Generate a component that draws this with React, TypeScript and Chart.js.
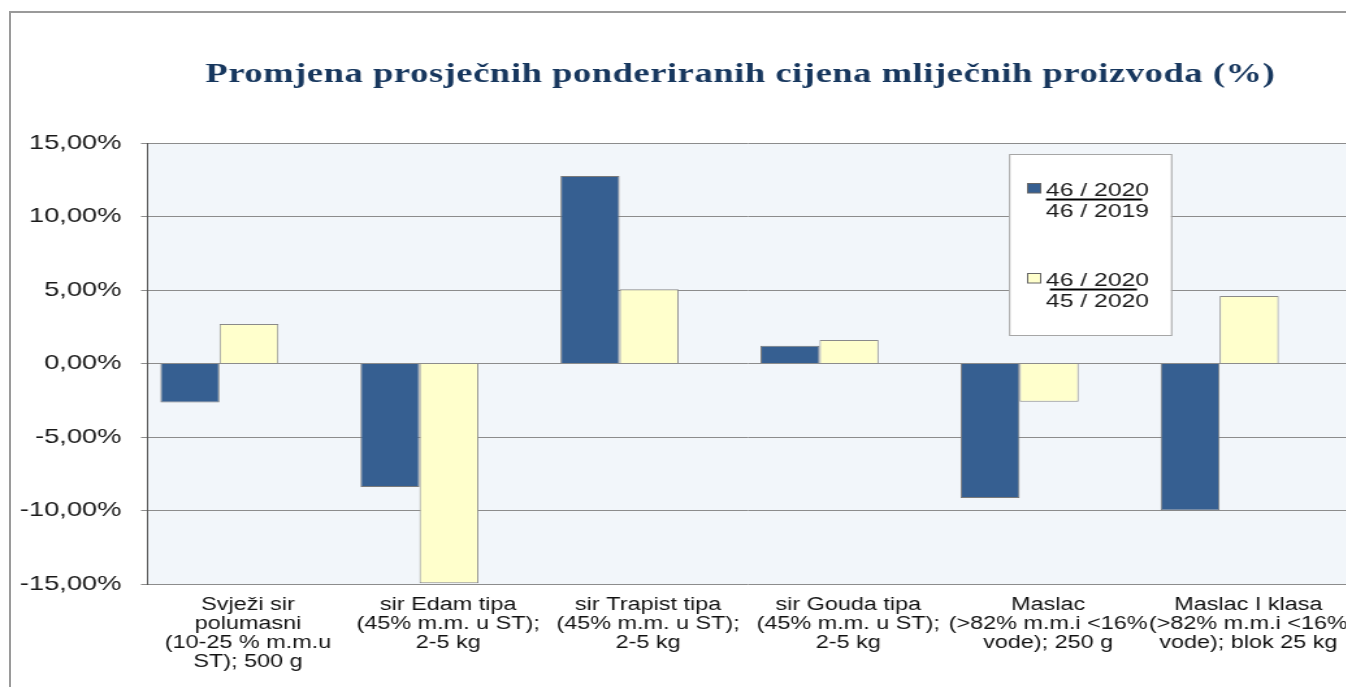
import React, { useEffect, useRef } from "react";
import { Chart, registerables } from "chart.js";

Chart.register(...registerables);

// ---- data ----
const categoryLabels: string[][] = [
  ["Svježi sir", "polumasni", "(10-25 % m.m.u", "ST); 500 g"],
  ["sir Edam tipa", "(45% m.m. u ST);", "2-5 kg"],
  ["sir Trapist tipa", "(45% m.m. u ST);", "2-5 kg"],
  ["sir Gouda tipa", "(45% m.m. u ST);", "2-5 kg"],
  ["Maslac", "(>82% m.m.i <16%", "vode); 250 g"],
  ["Maslac I klasa", "(>82% m.m.i <16%", "vode); blok 25 kg"],
];
const seriesNumerators = ["46 / 2020", "46 / 2020"];
const seriesDenominators = ["46 / 2019", "45 / 2020"];
const yearOnYear = [-2.65, -8.4, 12.75, 1.2, -9.15, -10.0];
const weekOnWeek = [2.68, -14.95, 5.05, 1.6, -2.6, 4.6];
const yTickValues = [-15, -10, -5, 0, 5, 10, 15];
const seriesColors = ["#365F91", "#FFFFCC"];
const titleText = "Promjena prosječnih ponderiranih cijena mliječnih proizvoda (%)";

// ---- layout ----
const SX = 1.3; // horizontal stretch of the whole picture
const CANVAS_W = 1048;
const CANVAS_H = 687;
const PLOT_LEFT = 148 / SX;
const PLOT_TOP = 143;
const FIRST_GROUP_OFFSET = 72 / SX; // first group centre from plot left
const PLOT_RIGHT = 1358 / SX;
const TITLE_CENTER_X = 740 / SX;
const TITLE_WIDTH = 1069 / SX;
const TITLE_BASELINE = 82;

const fmtPct = (v: number) => `${v.toFixed(2).replace(".", ",")}%`;

const plotBackground = {
  id: "plotBackground",
  beforeDraw(chart: any) {
    const { ctx, chartArea } = chart;
    ctx.save();
    ctx.fillStyle = "#F2F6FA";
    ctx.fillRect(chartArea.left, chartArea.top, chartArea.right - chartArea.left, chartArea.bottom - chartArea.top);
    ctx.restore();
  },
};

const chartTitle = {
  id: "chartTitle",
  afterDraw(chart: any) {
    const ctx = chart.ctx;
    ctx.save();
    ctx.font = 'bold 28px "Liberation Serif", "Times New Roman", serif';
    (ctx as any).letterSpacing = "0px";
    const w0 = ctx.measureText(titleText).width;
    const spacing = (TITLE_WIDTH - w0) / (titleText.length - 1);
    (ctx as any).letterSpacing = `${spacing.toFixed(2)}px`;
    ctx.fillStyle = "#17375E";
    ctx.textAlign = "left";
    ctx.textBaseline = "alphabetic";
    ctx.fillText(titleText, TITLE_CENTER_X - TITLE_WIDTH / 2, TITLE_BASELINE);
    (ctx as any).letterSpacing = "0px";
    ctx.restore();
  },
};

const fractionLegend = {
  id: "fractionLegend",
  afterDraw(chart: any) {
    const ctx = chart.ctx;
    ctx.save();
    (ctx as any).letterSpacing = "0px";
    const bx = 1009 / SX;
    const by = 154;
    const bw = 162 / SX;
    const bh = 181;
    ctx.fillStyle = "#ffffff";
    ctx.fillRect(bx, by, bw, bh);
    ctx.strokeStyle = "#a6a6a6";
    ctx.lineWidth = 1;
    ctx.strokeRect(bx + 0.5, by + 0.5, bw, bh);
    chart.data.datasets.forEach((ds: any, i: number) => {
      const top = by + i * 90;
      const sx = 1027 / SX;
      ctx.fillStyle = ds.backgroundColor;
      ctx.fillRect(sx, top + 29, 10.5, 10);
      ctx.strokeStyle = "#666";
      ctx.strokeRect(sx + 0.5, top + 29.5, 10, 9.5);
      const tx = 1046 / SX;
      ctx.fillStyle = "#1a1a1a";
      ctx.font = '19px "Liberation Sans", Arial, sans-serif';
      ctx.textBaseline = "alphabetic";
      ctx.textAlign = "left";
      ctx.fillText(seriesNumerators[i], tx, top + 42);
      ctx.fillText(seriesDenominators[i], tx, top + 63);
      ctx.fillStyle = "#000";
      ctx.fillRect(tx + i * 3, top + 44.5, 74 - i * 7, 2);
    });
    ctx.restore();
  },
};

export default function App() {
  const canvasRef = useRef<HTMLCanvasElement | null>(null);

  useEffect(() => {
    if (!canvasRef.current) return;
    const unit = (PLOT_RIGHT - PLOT_LEFT) / categoryLabels.length;
    const barMin = -FIRST_GROUP_OFFSET / unit;
    const barMax = barMin + categoryLabels.length;
    const chart = new Chart(canvasRef.current, {
      type: "bar",
      data: {
        labels: categoryLabels,
        datasets: [
          {
            label: `${seriesNumerators[0]} : ${seriesDenominators[0]}`,
            data: yearOnYear.map((v, i) => ({ x: i, y: v })),
            backgroundColor: seriesColors[0],
            borderColor: "#7a7a7a",
            borderWidth: 1,
            xAxisID: "xb",
            categoryPercentage: 0.59,
            barPercentage: 1,
          },
          {
            label: `${seriesNumerators[1]} : ${seriesDenominators[1]}`,
            data: weekOnWeek.map((v, i) => ({ x: i, y: v })),
            backgroundColor: seriesColors[1],
            borderColor: "#8a8a8a",
            borderWidth: 1,
            xAxisID: "xb",
            categoryPercentage: 0.59,
            barPercentage: 1,
          },
        ] as any,
      },
      options: {
        animation: false,
        responsive: false,
        maintainAspectRatio: false,
        layout: { padding: { left: 0, right: CANVAS_W - PLOT_RIGHT, top: PLOT_TOP, bottom: 0 } },
        plugins: {
          legend: { display: false },
          tooltip: { enabled: false },
          title: { display: false },
        },
        scales: {
          x: {
            type: "category",
            offset: true,
            position: "bottom",
            grid: { display: false, drawTicks: false },
            border: { display: false },
            ticks: {
              autoSkip: false,
              maxRotation: 0,
              minRotation: 0,
              padding: 11,
              color: "#111",
              font: { family: '"Liberation Sans", Arial, sans-serif', size: 18, lineHeight: 1.06 },
            },
            afterFit: (s: any) => {
              s.height = 103;
            },
          },
          xb: {
            type: "linear",
            display: false,
            offset: false,
            bounds: "data",
            grace: 0,
            min: barMin,
            max: barMax,
            position: "bottom",
            grid: { offset: false },
            afterDataLimits: (s: any) => {
              s.min = barMin;
              s.max = barMax;
            },
            afterBuildTicks: (s: any) => {
              s.ticks = [{ value: barMin }, { value: barMax }];
              s.min = barMin;
              s.max = barMax;
            },
          },
          y: {
            type: "linear",
            min: yTickValues[0],
            max: yTickValues[yTickValues.length - 1],
            afterBuildTicks: (s: any) => {
              s.ticks = yTickValues.map((v) => ({ value: v }));
            },
            afterFit: (s: any) => {
              s.width = PLOT_LEFT;
            },
            grid: { color: "#8c8c8c", lineWidth: 1, drawTicks: true, tickLength: 7 / SX },
            border: { display: true, color: "#555", width: 1 },
            ticks: {
              padding: 15,
              color: "#1a1a1a",
              font: { family: '"Liberation Sans", Arial, sans-serif', size: 21 },
              callback: (v: any) => fmtPct(Number(v)),
            },
          },
        } as any,
      },
      plugins: [plotBackground, chartTitle, fractionLegend],
    });
    return () => chart.destroy();
  }, []);

  return (
    <div
      style={{
        position: "fixed",
        left: 0,
        top: 0,
        width: 1346,
        height: 687,
        overflow: "hidden",
        background: "#ffffff",
      }}
    >
      <div
        style={{
          position: "absolute",
          left: 9,
          top: 11,
          width: 2000,
          height: 2000,
          borderLeft: "2px solid #9a9a9a",
          borderTop: "2px solid #9a9a9a",
        }}
      />
      <div
        style={{
          position: "absolute",
          left: 0,
          top: 0,
          width: CANVAS_W,
          height: CANVAS_H,
          transform: `scaleX(${SX})`,
          transformOrigin: "0 0",
        }}
      >
        <canvas
          ref={canvasRef}
          width={CANVAS_W}
          height={CANVAS_H}
          style={{ display: "block", width: CANVAS_W, height: CANVAS_H }}
        />
      </div>
    </div>
  );
}
